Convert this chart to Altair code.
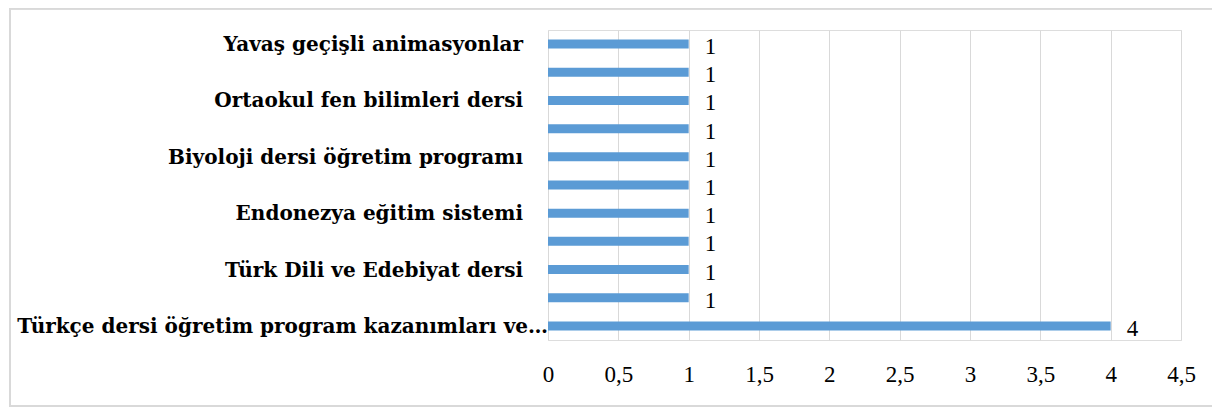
import altair as alt
import pandas as pd

# top-to-bottom order; empty labels were hidden in the original chart
labels = [
    "Yavaş geçişli animasyonlar",
    "",
    "Ortaokul fen bilimleri dersi",
    "",
    "Biyoloji dersi öğretim programı",
    "",
    "Endonezya eğitim sistemi",
    "",
    "Türk Dili ve Edebiyat dersi",
    "",
    "Türkçe dersi öğretim program kazanımları ve…",
]
values = [1, 1, 1, 1, 1, 1, 1, 1, 1, 1, 4]
x_ticks = [0, 0.5, 1, 1.5, 2, 2.5, 3, 3.5, 4, 4.5]

df = pd.DataFrame({"idx": list(range(len(labels))), "label": labels, "value": values})

LFONT = "DejaVu Serif"
NFONT = "Liberation Serif"

y_enc = alt.Y(
    "idx:O",
    sort="ascending",
    scale=alt.Scale(paddingInner=0, paddingOuter=0),
    axis=alt.Axis(title=None, labels=False, ticks=False, domain=False, grid=False),
)
x_enc = alt.X(
    "value:Q",
    scale=alt.Scale(domain=[0, 4.5], nice=False),
    axis=alt.Axis(
        title=None,
        values=x_ticks,
        labelExpr="replace(format(datum.value, ''), '.', ',')",
        labelFont=NFONT,
        labelFontSize=23,
        labelColor="#000000",
        labelPadding=23,
        labelFlush=False,
        ticks=False,
        domain=False,
        grid=True,
        gridColor="#d9d9d9",
        gridWidth=1,
    ),
)

bars = alt.Chart(df).mark_bar(height=9, color="#5b9bd5").encode(x=x_enc, y=y_enc)
values_text = alt.Chart(df).mark_text(
    align="left", baseline="middle", dx=16, dy=3, font=NFONT, fontSize=23, color="#000000"
).encode(x="value:Q", y=alt.Y("idx:O", sort="ascending"), text="value:Q")

cat_style = dict(align="right", baseline="middle", font=LFONT, fontWeight="bold",
                 fontSize=20, color="#000000", dy=1)
# regular category labels keep a gap to the axis
cat_short = alt.Chart(df).transform_filter(
    "datum.label != '' && length(datum.label) <= 40"
).mark_text(**cat_style).encode(
    x=alt.value(-25), y=alt.Y("idx:O", sort="ascending"), text="label:N"
)
# the truncated label overflows up to the axis
cat_long = alt.Chart(df).transform_filter(
    "length(datum.label) > 40"
).mark_text(**cat_style).encode(
    x=alt.value(0), y=alt.Y("idx:O", sort="ascending"), text="label:N"
)

border = alt.Chart(df).mark_rect(
    fill=None, stroke="#d9d9d9", strokeWidth=1.5
).encode(
    x=alt.value(-538), x2=alt.value(668), y=alt.value(-21.5), y2=alt.value(376)
)

chart = (
    alt.layer(bars, values_text, cat_short, cat_long, border)
    .properties(
        width=633,
        height=310,
        autosize=alt.AutoSizeParams(type="none"),
        padding={"left": 540, "top": 22, "right": 31, "bottom": 68},
    )
    .configure_view(stroke=None)
    .configure(background="white")
)

chart.save("out.html", embed_options={"renderer": "svg", "actions": False})
